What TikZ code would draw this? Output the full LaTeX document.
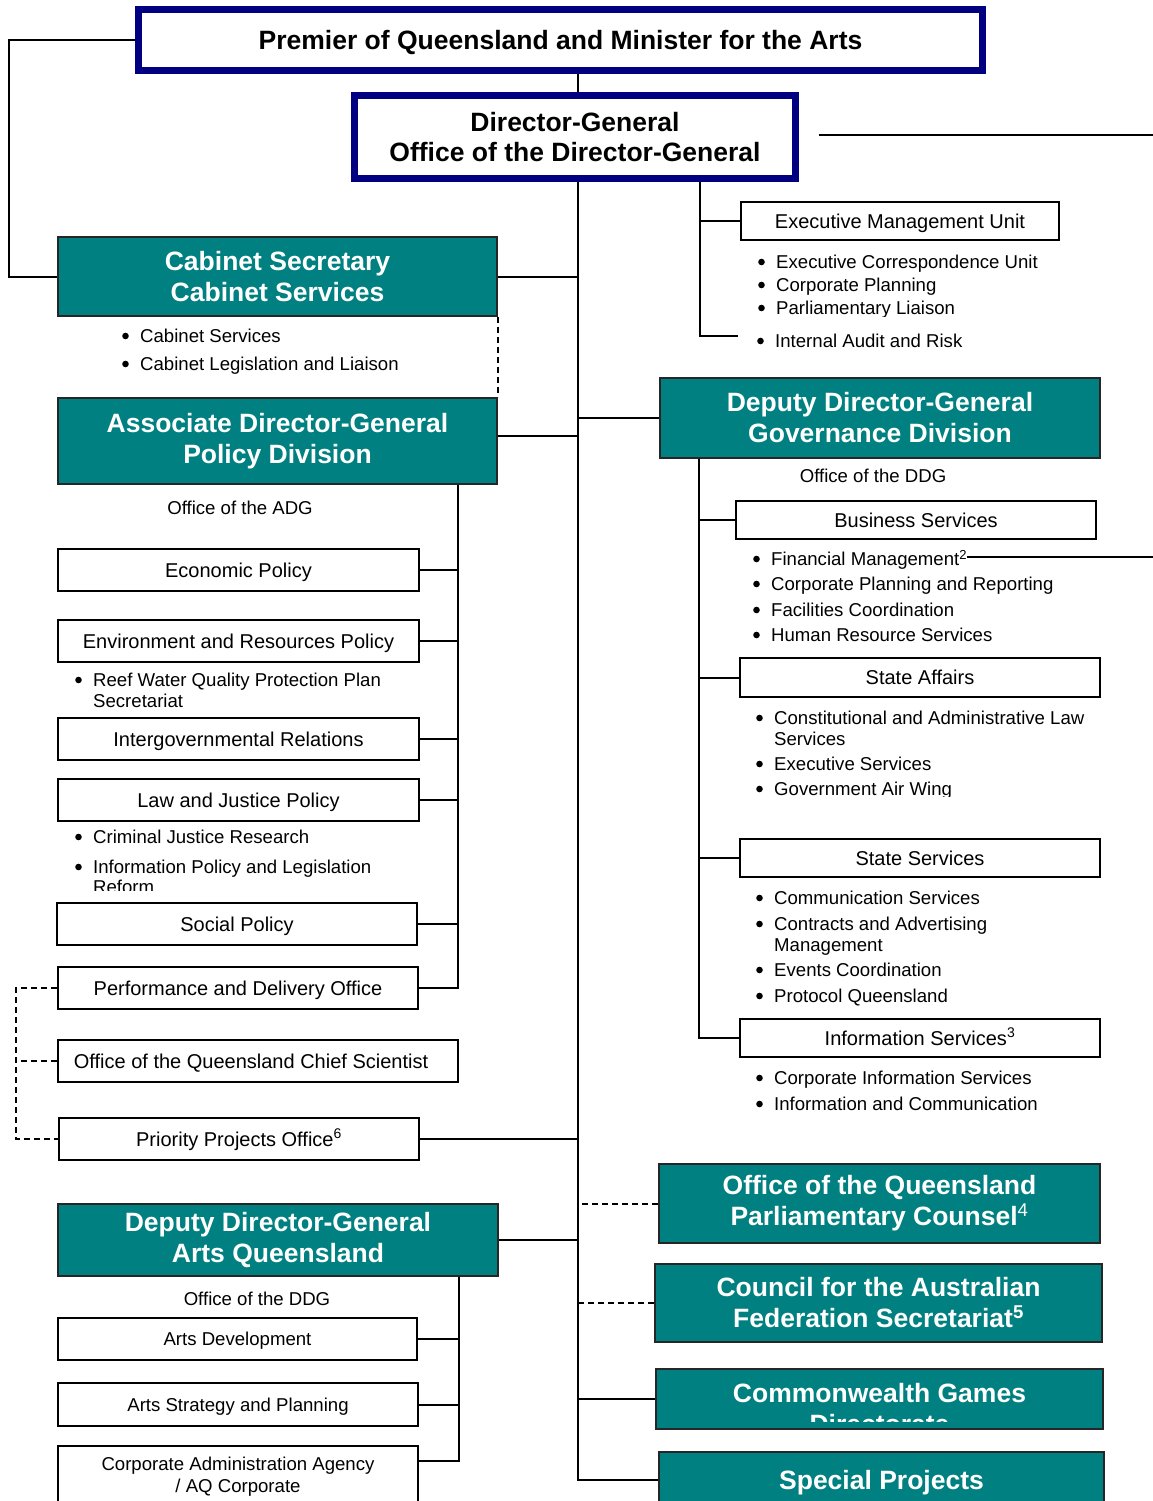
\documentclass[tikz,border=0pt]{standalone}
\usepackage{fontspec}
\setmainfont{Liberation Sans}
\usetikzlibrary{calc}
\definecolor{navyframe}{RGB}{0,0,128}
\definecolor{tealfill}{RGB}{0,128,128}

\tikzset{
  conn/.style={line width=2pt, black},
  dconn/.style={line width=2pt, black, dash pattern=on 6pt off 4pt},
  navybox/.style={draw=navyframe, line width=7pt, fill=white, inner sep=0pt, align=center,
    font=\bfseries\fontsize{26.5}{30}\selectfont},
  headbox/.style={draw=black!85, line width=2pt, fill=tealfill, text=white, inner sep=0pt,
    align=center, font=\bfseries\fontsize{26.5}{31}\selectfont},
  headtext/.style={text=white, inner sep=0pt, align=center, font=\bfseries\fontsize{26.5}{31}\selectfont},
  boxbase/.style={draw=black, line width=2pt, fill=white, inner sep=0pt, align=center},
  unitbox/.style={boxbase, font=\fontsize{20}{22}\selectfont, text height=18.3pt, text depth=4pt},
  smallbox/.style={boxbase, font=\fontsize{18.6}{22}\selectfont, text height=17.3pt, text depth=4pt},
  plaintext/.style={inner sep=0pt, font=\fontsize{18.6}{22}\selectfont, text height=17.3pt, text depth=4pt},
  item/.style={inner sep=0pt, anchor=base west, font=\fontsize{18.6}{22}\selectfont},
}

% bullet entry: name, x of text start, y of text centre, text
\newcommand\orgbul[4]{%
  \node[item] (#1) at ($(#2,#3)+(-17,6.5)$) {\hspace*{17pt}#4};
  \fill ($(#1.base west)+(2.5,-6.5)$) circle (3.3pt);}
% continuation line of a bullet entry
\newcommand\orgcont[4]{\node[item] (#1) at ($(#2,#3)+(0,6.5)$) {#4};}

\begin{document}
\begin{tikzpicture}[x=1pt,y=-1pt]
\path[use as bounding box] (0,0) rectangle (1153,1501);
\clip (0,0) rectangle (1153,1501);

% ---------- top of the hierarchy ----------
\node[navybox, minimum width=844, minimum height=61, text height=24pt, text depth=5pt]
  (premier) at (560.5,40) {Premier of Queensland and Minister for the Arts};
\node[navybox, minimum width=441, minimum height=83]
  (dg) at (575,137) {Director-General\\Office of the Director-General};

% ---------- division heads ----------
\node[headbox, minimum width=439, minimum height=79] (cab) at (277.5,276.5) {Cabinet Secretary\\Cabinet Services};
\node[headbox, minimum width=439, minimum height=86] (adg) at (277.5,441) {Associate Director-General\\Policy Division};
\node[headbox, minimum width=440, minimum height=80] (gov) at (880,418) {Deputy Director-General\\Governance Division};
\node[headbox, minimum width=440, minimum height=72] (arts) at (278,1240) {Deputy Director-General\\Arts Queensland};
\node[headbox, minimum width=441, minimum height=79] (oqpc) at (879.5,1203.5) {Office of the Queensland\\Parliamentary Counsel\textsuperscript{\mdseries 4}};
\node[headbox, minimum width=447, minimum height=78] (cfed) at (878.5,1303) {Council for the Australian\\Federation Secretariat\textsuperscript{5}};
\node[headbox, minimum width=447, minimum height=60] (cwg) at (879.5,1399) {};
\begin{scope}
  \clip (656,1369) rectangle (1103,1421);
  \node[headtext] (cwgtext) at (879.5,1408.5) {Commonwealth Games\\Directorate};
\end{scope}
\node[headbox, minimum width=445, minimum height=56, text height=24pt, text depth=5pt] (spec) at (881.5,1480) {Special Projects};

% ---------- units ----------
\node[unitbox, minimum width=318, minimum height=38] (emu) at (900,221) {Executive Management Unit};
\node[unitbox, minimum width=360, minimum height=38] (bus) at (916,520) {Business Services};
\node[unitbox, minimum width=360, minimum height=39] (saf) at (920,677.5) {State Affairs};
\node[unitbox, minimum width=360, minimum height=38] (ssv) at (920,858) {State Services};
\node[unitbox, minimum width=360, minimum height=38] (inf) at (920,1038) {Information Services\textsuperscript{3}};

\node[unitbox, minimum width=361, minimum height=42] (eco) at (238.5,570) {Economic Policy};
\node[unitbox, minimum width=361, minimum height=42] (env) at (238.5,641) {Environment and Resources Policy};
\node[unitbox, minimum width=361, minimum height=42] (igr) at (238.5,739) {Intergovernmental Relations};
\node[unitbox, minimum width=361, minimum height=42] (law) at (238.5,800) {Law and Justice Policy};
\node[unitbox, minimum width=360, minimum height=42] (soc) at (237,924) {Social Policy};
\node[unitbox, minimum width=360, minimum height=42] (pdo) at (238,988) {Performance and Delivery Office};
\node[unitbox, minimum width=400, minimum height=42] (qcs) at (258,1061) {Office of the Queensland Chief Scientist\hspace{14pt}};
\node[unitbox, minimum width=360, minimum height=42] (ppo) at (239,1139) {Priority Projects Office\textsuperscript{6}};

\node[smallbox, minimum width=359, minimum height=42] (adv) at (237.5,1339) {Arts Development};
\node[smallbox, minimum width=360, minimum height=43] (asp) at (238,1404.5) {Arts Strategy and Planning};
\node[boxbase, font=\fontsize{18.6}{22}\selectfont, minimum width=360, minimum height=62] (caa) at (238,1477)
  {Corporate Administration Agency\\/ AQ Corporate};

% ---------- office captions ----------
\node[plaintext] (oadg) at (240,508) {Office of the ADG};
\node[plaintext] (oddga) at (873,476) {Office of the DDG};
\node[plaintext] (oddgb) at (257,1299) {Office of the DDG};

% ---------- bullet lists ----------
\orgbul{ecu}{776}{262}{Executive Correspondence Unit}
\orgbul{cpl}{776}{285}{Corporate Planning}
\begin{scope}
  \clip (740,290) rectangle (1153,316);
  \orgbul{pli}{776}{308}{Parliamentary Liaison}
\end{scope}
\orgbul{iar}{775}{341}{Internal Audit and Risk}

\orgbul{csv}{140}{336}{Cabinet Services}
\orgbul{cll}{140}{364}{Cabinet Legislation and Liaison}

\orgbul{rwq}{93}{680}{Reef Water Quality Protection Plan}
\orgcont{rwqb}{93}{701}{Secretariat}

\orgbul{cjr}{93}{837}{Criminal Justice Research}
\orgbul{ipl}{93}{867}{Information Policy and Legislation}
\begin{scope}
  \clip (60,875) rectangle (420,890);
  \orgcont{iplb}{93}{887}{Reform}
\end{scope}

\orgbul{fm}{771}{559}{Financial Management\textsuperscript{2}}
\orgbul{cpr}{771}{584}{Corporate Planning and Reporting}
\orgbul{fco}{771}{610}{Facilities Coordination}
\orgbul{hrs}{771}{635}{Human Resource Services}

\orgbul{cal}{774}{718}{Constitutional and Administrative Law}
\orgcont{calb}{774}{739}{Services}
\orgbul{exs}{774}{764}{Executive Services}
\begin{scope}
  \clip (740,775) rectangle (1153,796);
  \orgbul{gaw}{774}{789}{Government Air Wing}
\end{scope}

\orgbul{com}{774}{898}{Communication Services}
\orgbul{cam}{774}{924}{Contracts and Advertising}
\orgcont{camb}{774}{945}{Management}
\orgbul{evc}{774}{970}{Events Coordination}
\orgbul{prq}{774}{996}{Protocol Queensland}

\orgbul{cis}{774}{1078}{Corporate Information Services}
\orgbul{iac}{774}{1104}{Information and Communication}

% ---------- connector anchors ----------
\coordinate (spx) at (578,0);
\coordinate (spend) at (578,1480);
\coordinate (ltop) at (9,40);
\coordinate (egx) at (700,0);
\coordinate (iaend) at (738,336);
\coordinate (gvx) at (699,0);
\coordinate (adx) at (458,0);
\coordinate (arx) at (459,0);
\coordinate (caaj) at (419,1461);
\coordinate (dlx) at (16,0);
\coordinate (dgspura) at (819,135);
\coordinate (dgspurb) at (1153,135);
\coordinate (fmend) at (1153,557);

% ---------- main spine ----------
\draw[conn] (premier.west) -- (ltop) |- (cab.west);
\draw[conn] (premier.south -| spx) -- (dg.north -| spx);
\draw[conn] (dg.south -| spx) -- (spend) -- (spec.west);
\draw[conn] (cab.east) -- (cab.east -| spx);
\draw[conn] ($(adg.east)+(0,-5)$) -- ($(adg.east -| spx)+(0,-5)$);
\draw[conn] (gov.west) -- (gov.west -| spx);
\draw[conn] (ppo.east) -- (ppo.east -| spx);
\draw[conn] (arts.east) -- (arts.east -| spx);
\draw[conn] (cwg.west) -- (cwg.west -| spx);
\draw[dconn] (oqpc.west) -- (oqpc.west -| spx);
\draw[dconn] (cfed.west) -- (cfed.west -| spx);
\draw[dconn] (cab.south east) -- (adg.north east);
\draw[conn] (dgspura) -- (dgspurb);

% ---------- Director-General's office ----------
\draw[conn] (dg.south -| egx) |- (iaend);
\draw[conn] (emu.west) -- (emu.west -| egx);

% ---------- Governance Division ----------
\draw[conn] (gov.south -| gvx) |- (inf.west);
\draw[conn] (bus.west) -- (bus.west -| gvx);
\draw[conn] (saf.west) -- (saf.west -| gvx);
\draw[conn] (ssv.west) -- (ssv.west -| gvx);
\draw[conn] (fm.east |- fmend) -- (fmend);

% ---------- Policy Division ----------
\draw[conn] (adg.south -| adx) |- (pdo.east);
\draw[conn] (eco.east) -- (eco.east -| adx);
\draw[conn] (env.east) -- (env.east -| adx);
\draw[conn] (igr.east) -- (igr.east -| adx);
\draw[conn] (law.east) -- (law.east -| adx);
\draw[conn] (soc.east) -- (soc.east -| adx);
\draw[dconn] (pdo.west) -- (pdo.west -| dlx) -- (ppo.west -| dlx) -- (ppo.west);
\draw[dconn] (qcs.west) -- (qcs.west -| dlx);

% ---------- Arts Queensland ----------
\draw[conn] (arts.south -| arx) |- (caaj);
\draw[conn] (adv.east) -- (adv.east -| arx);
\draw[conn] (asp.east) -- (asp.east -| arx);
\end{tikzpicture}
\end{document}
